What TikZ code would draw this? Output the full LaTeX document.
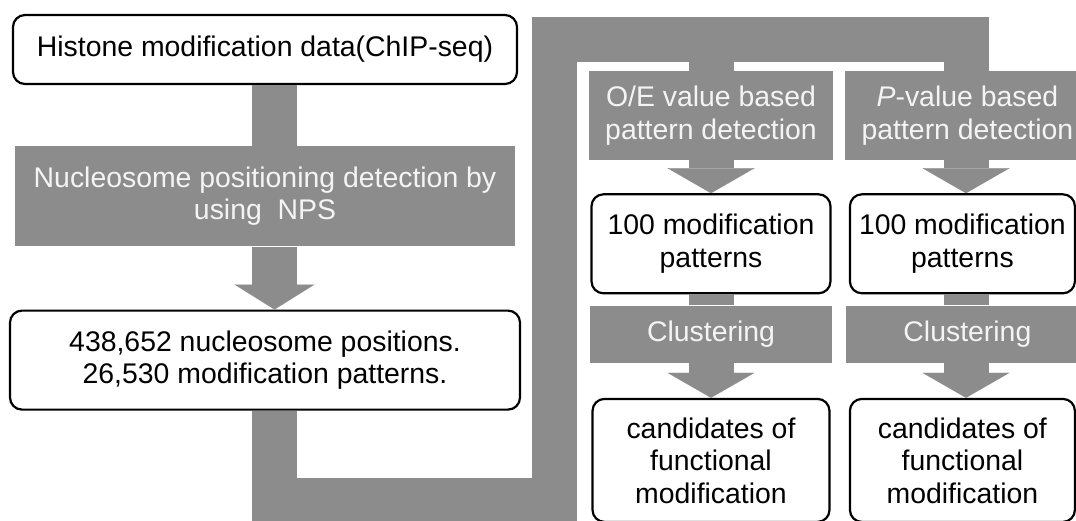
\documentclass[tikz,border=0pt]{standalone}
\usepackage{fontspec}
\setmainfont{Liberation Sans}
\usetikzlibrary{arrows.meta,positioning}
\definecolor{flowgray}{RGB}{140,140,140}
\definecolor{paleword}{RGB}{244,244,244}

\begin{document}
\begin{tikzpicture}[
    x=1pt, y=-1pt,
    font=\fontsize{28.4}{32.5}\selectfont,
    box/.style={
        rectangle,
        rounded corners=12pt,
        draw=black,
        line width=2.2pt,
        fill=white,
        inner sep=0pt,
        align=center
    },
    stage/.style={
        rectangle,
        fill=flowgray,
        text=paleword,
        inner sep=0pt,
        align=center
    },
    flow/.style={color=flowgray, line width=45pt},
    bigtip/.style={-{Triangle[width=#1, length=25pt, line width=0.1pt]}}
]
\useasboundingbox (0,0) rectangle (1076,520);
\coordinate (spine) at (274.5,0);
\coordinate (colA) at (711,0);
\coordinate (colB) at (966,0);
\coordinate (low) at (554,500);
\coordinate (high) at (554,39);

% left column
\node[box, minimum width=504pt, minimum height=69pt] (hist) at (265,49.5) {Histone modification data(ChIP-seq)};
\node[stage, minimum width=500pt, minimum height=100pt, below=61pt of hist] (nps) {Nucleosome positioning detection by\\using\ \ NPS};
\node[box, minimum width=510pt, minimum height=99pt, below=63pt of nps] (reads) {438,652 nucleosome positions.\\26,530 modification patterns.};

% right column
\node[stage, minimum width=244pt, minimum height=89pt] (oe) at (711,115.5) {O/E value based\\pattern detection};
\node[stage, minimum width=244pt, minimum height=89pt, right=12pt of oe] (pval) {\textit{P}-value based\\pattern detection};
\node[box, minimum width=239pt, minimum height=99pt, below=33pt of oe] (patA) {100 modification\\patterns};
\node[box, minimum width=225pt, minimum height=99pt, below=33pt of pval, xshift=-5pt] (patB) {100 modification\\patterns};
\node[stage, minimum width=242pt, minimum height=57pt, below=11pt of patA] (clusA) {Clustering};
\node[stage, minimum width=242pt, minimum height=57pt, below=11pt of patB, xshift=5pt] (clusB) {Clustering};
\node[box, minimum width=237pt, minimum height=123pt, below=35pt of clusA] (candA) {candidates of\\functional\\modification};
\node[box, minimum width=225pt, minimum height=123pt, below=35pt of clusB, xshift=-5pt] (candB) {candidates of\\functional\\modification};

\draw[flow] (hist.south -| spine) -- (nps.north -| spine);
\draw[flow, bigtip=80pt] (nps.south -| spine) -- (reads.north -| spine);
\draw[flow] (reads.south -| spine) |- (low) -- (high) -| (pval.north -| colB);
\draw[flow] (high -| colA) -- (oe.north -| colA);

\draw[flow, bigtip=87pt] (oe.south -| colA) -- (patA.north -| colA);
\draw[flow, bigtip=87pt] (pval.south -| colB) -- (patB.north -| colB);
\draw[flow] (patA.south -| colA) -- (clusA.north -| colA);
\draw[flow] (patB.south -| colB) -- (clusB.north -| colB);
\draw[flow, bigtip=87pt] (clusA.south -| colA) -- (candA.north -| colA);
\draw[flow, bigtip=87pt] (clusB.south -| colB) -- (candB.north -| colB);
\end{tikzpicture}
\end{document}
